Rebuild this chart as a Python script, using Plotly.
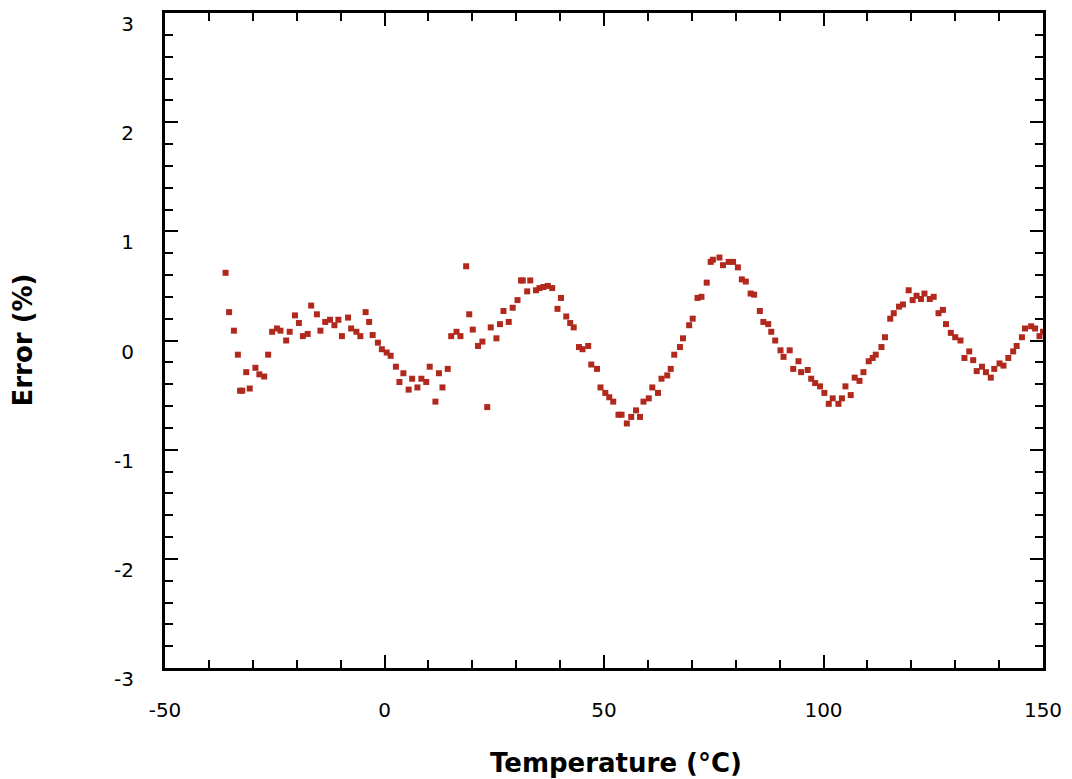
import plotly.graph_objects as go

temperature = [
    -36.2, -35.4, -34.3, -33.4, -32.9, -32.4, -31.5, -30.7, -29.4, -28.5,
    -27.4, -26.5, -25.6, -24.5, -23.7, -22.4, -21.6, -20.4, -19.5, -18.6,
    -17.5, -16.7, -15.4, -14.6, -13.5, -12.4, -11.4, -10.5, -9.7, -8.3,
    -7.6, -6.4, -5.5, -4.3, -3.5, -2.7, -1.5, -0.6, 0.5, 1.4,
    2.6, 3.4, 4.3, 5.5, 6.3, 7.5, 8.4, 9.5, 10.3, 11.6,
    12.4, 13.2, 14.4, 15.2, 16.4, 17.3, 18.6, 19.3, 20.1, 21.3,
    22.3, 23.4, 24.2, 25.5, 26.3, 27.1, 28.3, 29.2, 30.3, 31.1,
    31.5, 32.5, 33.2, 34.5, 35.3, 36.2, 37.2, 38.2, 39.4, 40.2,
    41.4, 42.3, 43.1, 44.3, 45.1, 46.4, 47.1, 48.4, 49.2, 50.3,
    51.2, 52.1, 53.3, 54.0, 55.2, 56.2, 57.3, 58.2, 59.0, 60.2,
    61.0, 62.3, 63.1, 64.4, 65.2, 66.0, 67.3, 68.0, 69.4, 70.2,
    71.3, 72.2, 73.4, 74.3, 74.8, 76.3, 77.1, 78.4, 79.4, 80.5,
    81.4, 82.3, 83.4, 84.2, 85.5, 86.3, 87.4, 88.1, 89.0, 90.2,
    90.9, 92.3, 93.1, 94.3, 94.9, 96.4, 97.2, 98.1, 99.2, 100.2,
    101.2, 102.1, 103.4, 104.2, 105.0, 106.2, 107.1, 108.2, 109.1, 110.3,
    111.2, 111.9, 113.2, 114.0, 115.2, 116.0, 117.2, 118.1, 119.4, 120.3,
    121.2, 122.2, 123.0, 124.2, 125.1, 126.2, 127.2, 127.9, 129.0, 130.0,
    131.2, 132.1, 133.2, 134.1, 134.9, 136.1, 137.0, 138.1, 138.9, 140.1,
    141.0, 142.1, 143.2, 144.0, 145.2, 145.9, 147.3, 148.2, 149.2, 150.0,
]

error_pct = [
    0.62, 0.26, 0.09, -0.13, -0.46, -0.46, -0.29, -0.44, -0.25, -0.31,
    -0.33, -0.13, 0.08, 0.11, 0.09, 0.00, 0.08, 0.23, 0.16, 0.04,
    0.06, 0.32, 0.24, 0.09, 0.17, 0.19, 0.14, 0.19, 0.04, 0.21,
    0.11, 0.08, 0.04, 0.26, 0.17, 0.05, -0.02, -0.08, -0.11, -0.14,
    -0.24, -0.38, -0.30, -0.45, -0.35, -0.43, -0.35, -0.38, -0.24, -0.56,
    -0.30, -0.43, -0.26, 0.04, 0.08, 0.04, 0.68, 0.24, 0.10, -0.05,
    -0.01, -0.61, 0.12, 0.02, 0.15, 0.27, 0.17, 0.30, 0.37, 0.55,
    0.55, 0.45, 0.55, 0.46, 0.48, 0.49, 0.50, 0.48, 0.29, 0.39,
    0.22, 0.16, 0.12, -0.06, -0.08, -0.05, -0.22, -0.26, -0.43, -0.48,
    -0.52, -0.56, -0.68, -0.68, -0.76, -0.70, -0.64, -0.70, -0.56, -0.53,
    -0.43, -0.48, -0.35, -0.32, -0.26, -0.13, -0.06, 0.02, 0.14, 0.20,
    0.39, 0.40, 0.53, 0.72, 0.74, 0.76, 0.69, 0.72, 0.72, 0.67,
    0.56, 0.54, 0.43, 0.42, 0.27, 0.17, 0.15, 0.08, 0.00, -0.09,
    -0.15, -0.09, -0.26, -0.19, -0.29, -0.27, -0.35, -0.39, -0.42, -0.48,
    -0.58, -0.53, -0.58, -0.53, -0.42, -0.50, -0.34, -0.37, -0.29, -0.19,
    -0.16, -0.13, -0.06, 0.03, 0.20, 0.25, 0.31, 0.33, 0.46, 0.37,
    0.41, 0.38, 0.43, 0.38, 0.40, 0.25, 0.28, 0.15, 0.07, 0.03,
    0.00, -0.16, -0.10, -0.18, -0.28, -0.24, -0.29, -0.34, -0.26, -0.21,
    -0.23, -0.16, -0.10, -0.05, 0.03, 0.11, 0.13, 0.11, 0.04, 0.08,
]

x_ticks = [-50, 0, 50, 100, 150]
y_ticks = [-3, -2, -1, 0, 1, 2, 3]
x_title = "Temperature (°C)"
y_title = "Error (%)"

FONT = "DejaVu Sans"

fig = go.Figure()
fig.add_trace(go.Scatter(
    x=temperature, y=error_pct, mode="markers",
    marker=dict(symbol="square", size=6, color="#b1281d", line=dict(width=0)),
    cliponaxis=True, showlegend=False,
))

axis_common = dict(
    showgrid=False, zeroline=False, showline=True, linecolor="black", linewidth=3,
    mirror="ticks", ticks="inside", ticklen=13, tickwidth=2, tickcolor="black",
    tickfont=dict(family=FONT, size=20, color="black"),
)

fig.update_xaxes(
    range=[-50, 150], tickmode="array", tickvals=x_ticks,
    ticktext=[str(v) for v in x_ticks],
    minor=dict(dtick=10, ticks="inside", ticklen=8, tickwidth=2, tickcolor="black"),
    ticklabelstandoff=22,
    **axis_common,
)
fig.update_yaxes(
    range=[-3, 3], tickmode="array", tickvals=y_ticks,
    ticktext=[str(v) for v in y_ticks],
    minor=dict(dtick=0.2, ticks="inside", ticklen=8, tickwidth=2, tickcolor="black"),
    ticklabelstandoff=24, ticklabelposition="outside", ticklabelshift=11,
    **axis_common,
)

fig.add_annotation(
    text="<b>" + x_title + "</b>", xref="paper", yref="paper",
    x=(616 - 165) / 878, y=0, xanchor="center", yanchor="middle",
    yshift=-95, showarrow=False,
    font=dict(family=FONT, size=26, color="black"),
)
fig.add_annotation(
    text="<b>" + y_title + "</b>", xref="paper", yref="paper",
    x=0, y=0.5, xanchor="center", yanchor="middle", xshift=-143,
    textangle=-90, showarrow=False,
    font=dict(family=FONT, size=26, color="black"),
)

fig.update_layout(
    width=1064, height=771,
    margin=dict(l=157, r=29, t=2, b=111),
    paper_bgcolor="white", plot_bgcolor="white",
)

fig.write_html("out.html")
